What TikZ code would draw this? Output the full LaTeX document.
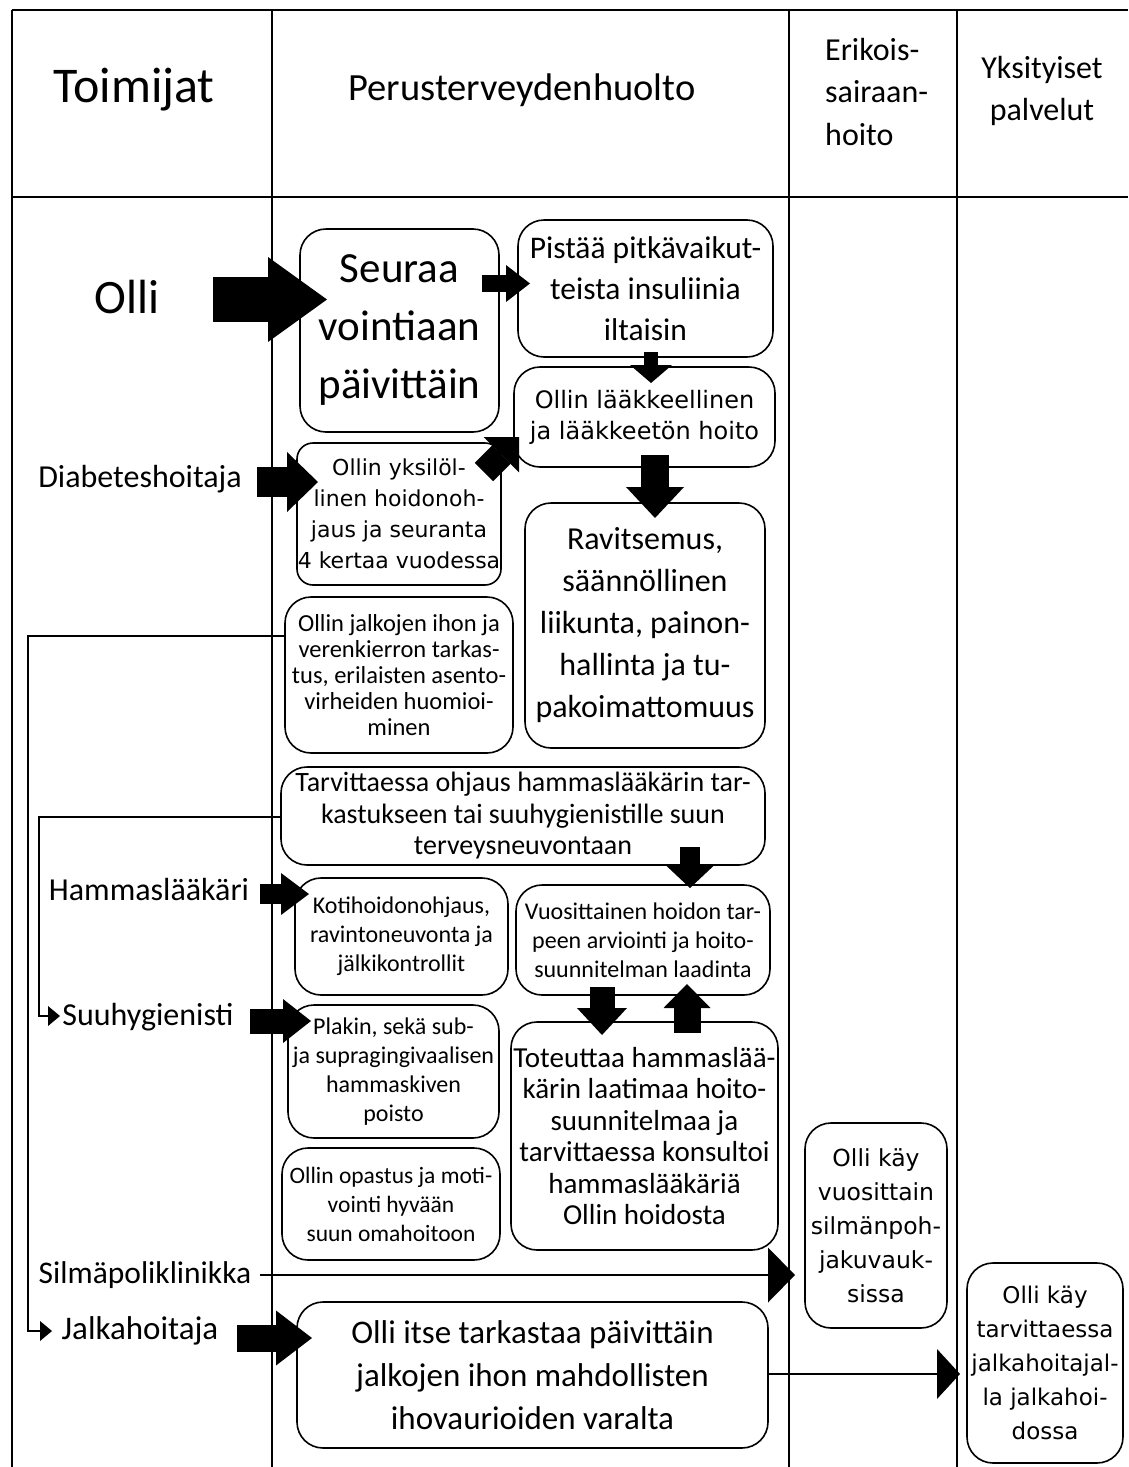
\documentclass[tikz,border=0pt]{standalone}
\usepackage{fontspec}
\setmainfont{Carlito}
\newfontfamily\dvs{DejaVu Sans}
\usetikzlibrary{arrows.meta}
\newcommand\fs[2]{\fontsize{#1}{#2}\selectfont}
\begin{document}
\begin{tikzpicture}[x=1pt,y=-1pt,
  tline/.style={line width=2pt},
  box/.style={draw, line width=1.6pt, rounded corners=26pt, inner sep=0pt, align=center},
  lab/.style={inner sep=0pt, anchor=base, font=\fs{32}{38}},
  blk/.style n args={3}{line width=#1, -{Triangle[length=#2,width=#3,line width=0pt]}},
  conn/.style={line width=1.6pt, -{Triangle[length=12pt,width=20pt,line width=0pt]}}]
\useasboundingbox (0,0) rectangle (1128,1467);
\fill[white] (0,0) rectangle (1128,1467);
% table
\draw[tline] (12,10) -- (1128,10);
\draw[tline] (12,10) -- (12,1467);
\draw[tline] (12,197) -- (1128,197);
\draw[tline] (272,10) -- (272,1467);
\draw[tline] (789,10) -- (789,1467);
\draw[tline] (957,10) -- (957,1467);
% header
\node[lab, font=\fs{50}{56}] (toim) at (134,102) {Toimijat};
\node[lab, font=\fs{38.5}{46}] (peru) at (522,100) {Perusterveydenhuolto};
\node[inner sep=0pt, anchor=west, align=left, font=\fs{32}{42.5}] (erik) at (825,92) {Erikois-\\sairaan-\\hoito};
\node[inner sep=0pt, align=center, font=\fs{32}{42}] (yksit) at (1042,91) {Yksityiset\\palvelut};
% row labels
\node[lab, font=\fs{48}{56}] (olli) at (127,313) {Olli};
\node[lab] (diab) at (140,487) {Diabeteshoitaja};
\node[lab] (hamm) at (149,900) {Hammaslääkäri};
\node[lab] (suuh) at (148,1025) {Suuhygienisti};
\node[lab, font=\fs{31.5}{38}] (silma) at (145,1283) {Silmäpoliklinikka};
\node[lab, font=\fs{33}{38}] (jalka) at (140,1339) {Jalkahoitaja};
% boxes
\node[box, minimum width=199pt, minimum height=203pt, font=\fs{43}{58}] (seuraa) at (399.5,330.5) {Seuraa\\vointiaan\\päivittäin};
\node[box, minimum width=255pt, minimum height=137pt, font=\fs{31.5}{41}] (pistaa) at (645.5,288.5) {Pistää pitkävaikut-\\teista insuliinia\\iltaisin};
\node[box, minimum width=261pt, minimum height=100pt, font=\dvs\fs{24}{31}] (laak) at (644.5,417) {Ollin lääkkeellinen\\ja lääkkeetön hoito};
\node[box, minimum width=204pt, minimum height=142pt, rounded corners=16pt, font=\dvs\fs{22}{31}] (yksil) at (399,514) {Ollin yksilöl-\\linen hoidonoh-\\jaus ja seuranta\\4 kertaa vuodessa};
\node[box, minimum width=240pt, minimum height=245pt, font=\fs{32}{42}] (ravit) at (645,625.5) {Ravitsemus,\\säännöllinen\\liikunta, painon-\\hallinta ja tu-\\pakoimattomuus};
\node[box, minimum width=228pt, minimum height=156pt, font=\fs{24.5}{25.8}] (jalk) at (399,675) {Ollin jalkojen ihon ja\\verenkierron tarkas-\\tus, erilaisten asento-\\virheiden huomioi-\\minen};
\node[box, minimum width=484pt, minimum height=98pt, font=\fs{28}{31.5}] (tarv) at (523,816) {Tarvittaessa ohjaus hammaslääkärin tar-\\kastukseen tai suuhygienistille suun\\terveysneuvontaan};
\node[box, minimum width=213pt, minimum height=117pt, font=\fs{24}{29}] (koti) at (401.5,936.5) {Kotihoidonohjaus,\\ravintoneuvonta ja\\jälkikontrollit};
\node[box, minimum width=254pt, minimum height=110pt, font=\fs{24}{29}] (vuos) at (643,940) {Vuosittainen hoidon tar-\\peen arviointi ja hoito-\\suunnitelman laadinta};
\node[box, minimum width=211pt, minimum height=133pt, font=\fs{24}{29}] (plak) at (393.5,1071.5) {Plakin, sekä sub-\\ja supragingivaalisen\\hammaskiven\\poisto};
\node[box, minimum width=267pt, minimum height=228pt, font=\fs{29}{31.5}] (tote) at (644.5,1136) {Toteuttaa hammaslää-\\kärin laatimaa hoito-\\suunnitelmaa ja\\tarvittaessa konsultoi\\hammaslääkäriä\\Ollin hoidosta};
\node[box, minimum width=218pt, minimum height=112pt, font=\fs{23.5}{29}] (opas) at (391,1204) {Ollin opastus ja moti-\\vointi hyvään\\suun omahoitoon};
\node[box, minimum width=142pt, minimum height=205pt, font=\dvs\fs{23.5}{34}] (silm) at (876,1225.5) {Olli käy\\vuosittain\\silmänpoh-\\jakuvauk-\\sissa};
\node[box, minimum width=471pt, minimum height=146pt, font=\fs{33}{43}] (itse) at (532.5,1375) {Olli itse tarkastaa päivittäin\\jalkojen ihon mahdollisten\\ihovaurioiden varalta};
\node[box, minimum width=156pt, minimum height=200pt, font=\dvs\fs{23}{34}] (tarvj) at (1045,1363) {Olli käy\\tarvittaessa\\jalkahoitajal-\\la jalkahoi-\\dossa};
% arrow end points
\coordinate (aO1) at (213,299.5);  \coordinate (aO2) at (327,299.5);
\coordinate (aS1) at (482,283.5);  \coordinate (aS2) at (530,283.5);
\coordinate (aP1) at (651,352);    \coordinate (aP2) at (651,383);
\coordinate (aL1) at (655,455);    \coordinate (aL2) at (655,518);
\coordinate (aY1) at (484,472);    \coordinate (aY2) at (519,437);
\coordinate (aD1) at (257,482);    \coordinate (aD2) at (318,482);
\coordinate (aT1) at (690,847);    \coordinate (aT2) at (690,888);
\coordinate (aH1) at (260,894);    \coordinate (aH2) at (309,894);
\coordinate (aU1) at (250,1021);   \coordinate (aU2) at (311,1021);
\coordinate (aV1) at (602,987);    \coordinate (aV2) at (602,1035);
\coordinate (aW1) at (687,1033);   \coordinate (aW2) at (687,984);
\coordinate (aSi1) at (260,1275);  \coordinate (aSi2) at (795,1275);
\coordinate (aI1) at (767,1374);   \coordinate (aI2) at (960,1374);
\coordinate (aJ1) at (237,1338);   \coordinate (aJ2) at (312,1338);
\coordinate (c1s) at (286,636);  \coordinate (c1a) at (28,636);  \coordinate (c1b) at (28,1331); \coordinate (c1e) at (52,1331);
\coordinate (c2s) at (281,817);  \coordinate (c2a) at (39,817);  \coordinate (c2b) at (39,1016); \coordinate (c2e) at (60,1016);
% block arrows
\draw[blk={45pt}{59pt}{85pt}] (aO1) -- (aO2);
\draw[blk={17pt}{24pt}{37pt}] (aS1) -- (aS2);
\draw[blk={14pt}{18pt}{42pt}] (aP1) -- (aP2);
\draw[blk={28pt}{31pt}{58pt}] (aL1) -- (aL2);
\draw[blk={26pt}{25pt}{50pt}] (aY1) -- (aY2);
\draw[blk={30pt}{31pt}{60pt}] (aD1) -- (aD2);
\draw[blk={20pt}{23pt}{49pt}] (aT1) -- (aT2);
\draw[blk={20pt}{28pt}{42pt}] (aH1) -- (aH2);
\draw[blk={25pt}{28pt}{44pt}] (aU1) -- (aU2);
\draw[blk={25pt}{27pt}{50pt}] (aV1) -- (aV2);
\draw[blk={27pt}{24pt}{47pt}] (aW1) -- (aW2);
\draw[blk={27pt}{36pt}{55pt}] (aJ1) -- (aJ2);
\draw[blk={1.6pt}{27pt}{55pt}] (aSi1) -- (aSi2);
\draw[blk={1.6pt}{23pt}{50pt}] (aI1) -- (aI2);
% thin connectors
\draw[conn] (c1s) -- (c1a) -- (c1b) -- (c1e);
\draw[conn] (c2s) -- (c2a) -- (c2b) -- (c2e);
\end{tikzpicture}
\end{document}
